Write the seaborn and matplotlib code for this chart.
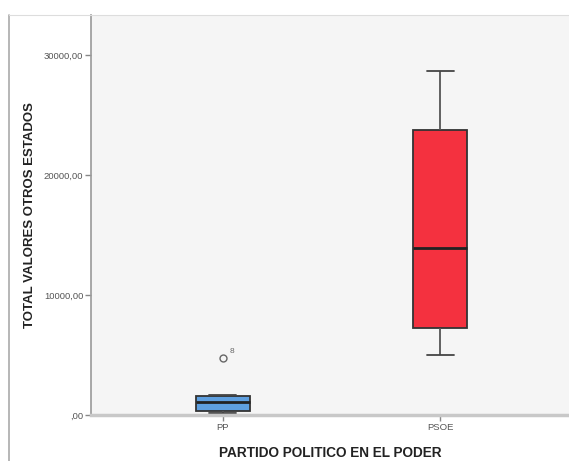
import numpy as np
import pandas as pd
import matplotlib
matplotlib.use("Agg")
import matplotlib.pyplot as plt
import seaborn as sns
from matplotlib.lines import Line2D
from matplotlib.ticker import FuncFormatter

# ==========================================
# Datos
# ==========================================
partidos = ["PP", "PSOE"]
valores_pp = [170, 250, 335, 700, 1090, 1400, 1590, 1680, 4780]
valores_psoe = [5030, 7290, 13900, 23800, 28670]
caso_atipico = "8"
y_ticks = [0, 10000, 20000, 30000]
colores = {"PP": "#5E9FDF", "PSOE": "#F4313F"}

df = pd.DataFrame({
    "partido": ["PP"] * len(valores_pp) + ["PSOE"] * len(valores_psoe),
    "valor": valores_pp + valores_psoe,
})

# ==========================================
# Figura
# ==========================================
sns.set_style("white")
plt.rcParams["font.family"] = ["Liberation Sans", "DejaVu Sans"]

fig = plt.figure(figsize=(5.69, 4.61), dpi=100)
ax = fig.add_axes([0.16, 0.0998, 0.84, 0.8677])
ax.set_facecolor("#F5F5F5")

sns.boxplot(data=df, x="partido", y="valor", hue="partido", palette=colores,
            order=partidos, legend=False, width=0.25, whis=1.5, linewidth=1.3,
            saturation=1, linecolor="#333333", ax=ax,
            flierprops=dict(marker="o", markerfacecolor="none",
                            markeredgecolor="#666666", markersize=5, markeredgewidth=1),
            capprops=dict(color="#444444"), whiskerprops=dict(color="#555555"),
            medianprops=dict(color="#222222", linewidth=2))

# etiqueta del caso atípico
ax.text(0.03, max(valores_pp) + 200, caso_atipico, fontsize=6, color="#666666",
        ha="left", va="bottom")

ax.set_xlim(-0.607, 1.593)
ax.set_ylim(0, 33360)
ax.set_yticks(y_ticks)
ax.yaxis.set_major_formatter(FuncFormatter(
    lambda v, p: ",00" if v == 0 else f"{int(v)},00"))

ax.tick_params(axis="both", which="both", direction="out", length=4, width=1,
               left=True, bottom=True,
               color="#888888", labelcolor="#555555", labelsize=6.8, pad=1.5)

for s in ["top", "right"]:
    ax.spines[s].set_visible(False)
ax.spines["left"].set_color("#999999")
ax.spines["left"].set_linewidth(1.2)
ax.spines["bottom"].set_color("#C8C8C8")
ax.spines["bottom"].set_linewidth(2.5)

ax.set_xlabel("PARTIDO POLITICO EN EL PODER", fontsize=9.8, fontweight="bold",
              color="#222222", labelpad=10)
ax.set_ylabel("TOTAL VALORES OTROS ESTADOS", fontsize=9.5, fontweight="bold",
              color="#222222", labelpad=6)

# marco exterior (borde izquierdo y superior)
fig.add_artist(Line2D([9 / 569, 9 / 569], [0, 1 - 15 / 461], color="#AAAAAA", lw=1.2))
fig.add_artist(Line2D([9 / 569, 1], [1 - 15 / 461, 1 - 15 / 461], color="#DDDDDD", lw=0.8))

fig.savefig("out.png", dpi=100)
